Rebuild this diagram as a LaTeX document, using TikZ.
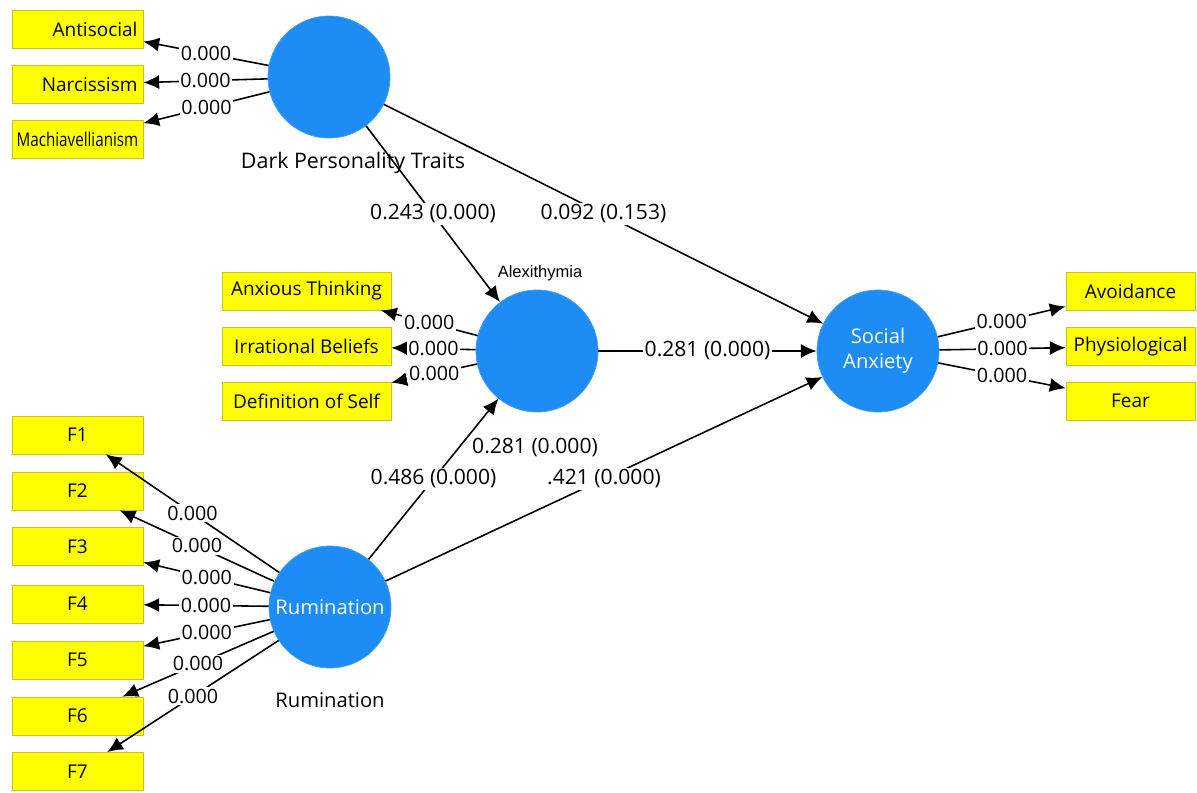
\documentclass[tikz,border=0pt]{standalone}
\usepackage{fontspec}
\setmainfont{Open Sans}
\newfontfamily\arialfont{Liberation Sans}
\usepackage{graphicx}
\usetikzlibrary{arrows.meta,positioning}

\definecolor{boxyellow}{RGB}{255,255,0}
\definecolor{boxedge}{RGB}{196,196,40}
\definecolor{latentblue}{RGB}{30,140,245}

\tikzset{
	ind/.style={draw=boxedge,fill=boxyellow,minimum width=2.62cm,minimum height=0.76cm,inner sep=1pt,font=\fontsize{10.8}{13}\selectfont},
	indwide/.style={ind,minimum width=3.38cm},
	lat/.style={circle,fill=latentblue,draw=latentblue!85!white,minimum size=2.44cm,inner sep=0pt,text=white,align=center,font=\fontsize{11.5}{14}\selectfont},
	link/.style={-{Latex[length=9pt,width=8pt]},line width=0.9pt},
	coef/.style={fill=white,inner sep=1pt,font=\fontsize{11.2}{13}\selectfont},
	pathcoef/.style={coef,font=\fontsize{12}{14}\selectfont},
	latlabel/.style={font=\fontsize{11.5}{14}\selectfont}
}

\begin{document}
\begin{tikzpicture}[x=0.02cm,y=-0.02cm]
		\useasboundingbox[fill=white] (0,0) rectangle (1197,792);
		
		% latent variables
		\node[lat] (dark) at (329,77) {};
		\node[lat] (alex) at (537,351) {};
		\node[lat] (soc) at (878,351) {Social\\Anxiety};
		\node[lat] (rum) at (330,607) {Rumination};
		
		\node[latlabel,font=\fontsize{12.2}{14}\selectfont] (darklbl) at (353,163) {Dark Personality Traits};
		\node[font=\arialfont\fontsize{9.4}{11}\selectfont] (alexlbl) at (540,273) {Alexithymia};
		\node[latlabel] (rumlbl) at (330,700) {Rumination};
		
		% indicators
		\node[ind,align=right,text width=2.4cm] (anti) at (77.5,29) {Antisocial};
		\node[ind,align=right,text width=2.4cm] (narc) at (77.5,84.5) {Narcissism};
		\node[ind] (mach) at (77.5,139.5) {\scalebox{0.8}[1]{Machiavellianism}};
		
		\node[indwide] (anxt) at (306.5,291) {Anxious Thinking};
		\node[indwide] (irrb) at (306.5,346) {Irrational Beliefs};
		\node[indwide] (defs) at (306.5,401) {Definition of Self};
		
		\node[ind,minimum width=2.58cm] (avoi) at (1130.5,291) {Avoidance};
		\node[ind,minimum width=2.58cm] (phys) at (1130.5,346.5) {Physiological};
		\node[ind,minimum width=2.58cm] (fear) at (1130.5,401) {Fear};
		
		\node[ind] (f1) at (77.5,435) {F1};
		\node[ind] (f2) at (77.5,491) {F2};
		\node[ind] (f3) at (77.5,546.5) {F3};
		\node[ind] (f4) at (77.5,604) {F4};
		\node[ind] (f5) at (77.5,660) {F5};
		\node[ind] (f6) at (77.5,716) {F6};
		\node[ind] (f7) at (77.5,771.5) {F7};
		
		% loadings
		\draw[link] (dark) -- node[coef] {0.000} (anti);
		\draw[link] (dark) -- node[coef] {0.000} (narc);
		\draw[link] (dark) -- node[coef] {0.000} (mach);
		
		\draw[link] (alex) -- node[coef] {0.000} (anxt);
		\draw[link] (alex) -- node[coef] {0.000} (irrb);
		\draw[link] (alex) -- node[coef] {0.000} (defs);
		
		\draw[link] (soc) -- node[coef] {0.000} (avoi);
		\draw[link] (soc) -- node[coef] {0.000} (phys);
		\draw[link] (soc) -- node[coef] {0.000} (fear);
		
		\draw[link] (rum) -- node[coef] {0.000} (f1);
		\draw[link] (rum) -- node[coef] {0.000} (f2);
		\draw[link] (rum) -- node[coef] {0.000} (f3);
		\draw[link] (rum) -- node[coef] {0.000} (f4);
		\draw[link] (rum) -- node[coef] {0.000} (f5);
		\draw[link] (rum) -- node[coef] {0.000} (f6);
		\draw[link] (rum) -- node[coef] {0.000} (f7);
		
		% structural paths
		\draw[link] (dark) -- node[pathcoef] {0.243 (0.000)} (alex);
		\draw[link] (dark) -- node[pathcoef] {0.092 (0.153)} (soc);
		\draw[link] (alex) -- node[pathcoef] {0.281 (0.000)} (soc);
		\draw[link] (rum) -- node[pathcoef] {0.486 (0.000)} (alex);
		\draw[link] (rum) -- node[pathcoef] {.421 (0.000)} (soc);
		
		\node[pathcoef] (extra) at (535,448) {0.281 (0.000)};
		
	\end{tikzpicture}
\end{document}
